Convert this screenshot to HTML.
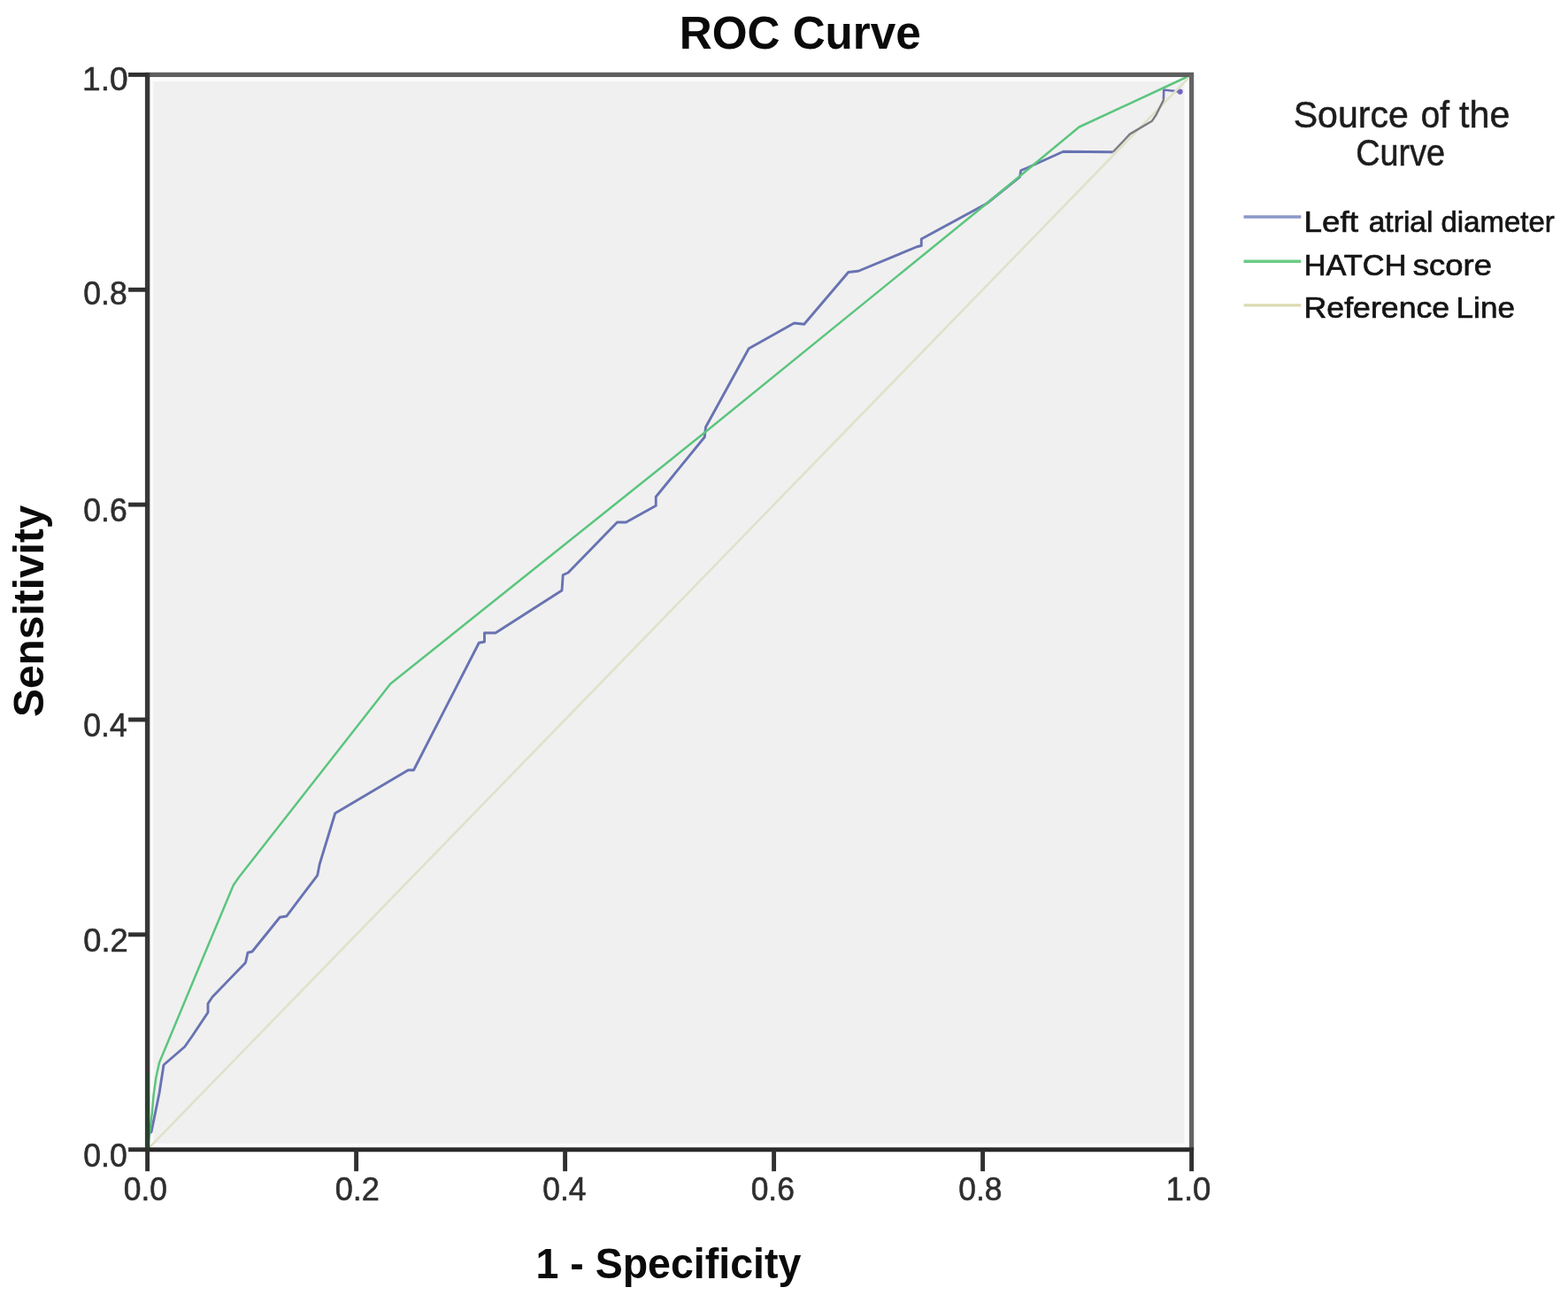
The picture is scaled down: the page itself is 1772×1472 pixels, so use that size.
<!DOCTYPE html>
<html lang="en">
<head>
<meta charset="utf-8">
<title>ROC Curve</title>
<style>
html,body{margin:0;padding:0;background:#fff;}
body{width:1772px;height:1472px;overflow:hidden;font-family:"Liberation Sans",Arial,sans-serif;}
svg{display:block;}
svg text{font-family:"Liberation Sans",Arial,sans-serif;}
</style>
</head>
<body>
<svg width="1772" height="1472" viewBox="0 0 1772 1472">
<rect x="0" y="0" width="1772" height="1472" fill="#ffffff"/>
<rect x="166.6" y="84.4" width="1180.0" height="1214.3" fill="#fbfbfb"/>
<rect x="173.5" y="92" width="1165.0" height="1199.7" fill="#f0f0f0"/>
<!-- Left atrial diameter -->
<polyline points="166.5,1298.5 166.5,1281 171,1279 180,1235 185,1203 208.75,1182.5 217.5,1170 235,1143.75 235,1133.75 240,1126.25 277.5,1087.5 280,1076.25 285,1075 316.25,1036.25 323.75,1035 358.75,988.75 361.25,976 378.75,918.75 461.25,870 467.5,870 541.25,726.25 547.5,725 547.5,715 560,715 635,667 636.25,649.5 642,647 697.5,590 707.5,590 741.25,571.25 741.25,561.25 796.25,493.75 797.5,482.5 846.25,393.75 897.5,365 908.75,366.25 958.75,307.5 970,306.25 1036.25,278.75 1041.25,277.5 1041.25,270 1115,230 1152.5,199.8 1153.75,192.5 1160,190 1201.5,171.2 1257.7,171.8" fill="none" stroke="#6873b2" stroke-width="2.9" stroke-linejoin="round"/>
<polyline points="1315,111 1315.2,101.5 1333.5,103.5" fill="none" stroke="#6873b2" stroke-width="2.6" stroke-linejoin="round"/>
<circle cx="1333.6" cy="103.6" r="3.1" fill="#7467bd"/>
<!-- HATCH score -->
<polyline points="166.6,1298.7 169,1280 171.7,1258.7 173.6,1237 176.3,1217.4 180,1200.5 225,1092.5 263.75,1000 270,991 441.25,772.5 796.25,488.75 1115,230 1219.5,143.5 1346.5,84.5" fill="none" stroke="#5bc57e" stroke-width="2.5" stroke-linejoin="round"/>
<!-- reference line -->
<line x1="166.6" y1="1298.7" x2="1346.6" y2="84.4" stroke="#e0e1ca" stroke-width="2.6"/>
<polyline points="1257.7,171.8 1277,151.4 1301.9,136.7 1306.4,130 1314.9,113 1315,109.5" fill="none" stroke="#7c7c82" stroke-width="2.4" stroke-linejoin="round"/>
<!-- frame -->
<g fill="none" stroke-linecap="butt">
<line x1="164.1" y1="84.4" x2="1349.1" y2="84.4" stroke="#5e5e5e" stroke-width="5.2"/>
<line x1="1346.6" y1="84.4" x2="1346.6" y2="1298.7" stroke="#646464" stroke-width="5.2"/>
<line x1="166.6" y1="81.9" x2="166.6" y2="1301.0" stroke="#383838" stroke-width="5.4"/>
<line x1="164.1" y1="1298.7" x2="1349.1" y2="1298.7" stroke="#2a2a2a" stroke-width="4.9"/>
</g>
<line x1="166.9" y1="1213" x2="166.9" y2="1296.7" stroke="#27432d" stroke-width="3.2" stroke-linecap="round"/>
<g stroke="#303030" stroke-width="4.9">
<line x1="145.1" y1="1298.7" x2="166.6" y2="1298.7"/>
<line x1="166.6" y1="1298.7" x2="166.6" y2="1323.2"/>
<line x1="145.1" y1="1055.8" x2="166.6" y2="1055.8"/>
<line x1="402.6" y1="1298.7" x2="402.6" y2="1323.2"/>
<line x1="145.1" y1="813.0" x2="166.6" y2="813.0"/>
<line x1="638.6" y1="1298.7" x2="638.6" y2="1323.2"/>
<line x1="145.1" y1="570.1" x2="166.6" y2="570.1"/>
<line x1="874.6" y1="1298.7" x2="874.6" y2="1323.2"/>
<line x1="145.1" y1="327.3" x2="166.6" y2="327.3"/>
<line x1="1110.6" y1="1298.7" x2="1110.6" y2="1323.2"/>
<line x1="145.1" y1="84.4" x2="166.6" y2="84.4"/>
<line x1="1346.6" y1="1298.7" x2="1346.6" y2="1323.2"/>
</g>
<g>
<text transform="translate(94.25,1317.70) scale(0.9480,1)" font-size="37.5" fill="#2e2e2e" stroke="#2e2e2e" stroke-width="0.6">0.0</text>
<text transform="translate(139.76,1356.20) scale(0.9440,1)" font-size="37.5" fill="#2e2e2e" stroke="#2e2e2e" stroke-width="0.6">0.0</text>
<text transform="translate(94.23,1074.84) scale(0.9673,1)" font-size="37.5" fill="#2e2e2e" stroke="#2e2e2e" stroke-width="0.6">0.2</text>
<text transform="translate(378.64,1356.20) scale(0.9633,1)" font-size="37.5" fill="#2e2e2e" stroke="#2e2e2e" stroke-width="0.6">0.2</text>
<text transform="translate(94.25,831.98) scale(0.9480,1)" font-size="37.5" fill="#2e2e2e" stroke="#2e2e2e" stroke-width="0.6">0.4</text>
<text transform="translate(613.36,1356.20) scale(0.9440,1)" font-size="37.5" fill="#2e2e2e" stroke="#2e2e2e" stroke-width="0.6">0.4</text>
<text transform="translate(94.25,589.12) scale(0.9480,1)" font-size="37.5" fill="#2e2e2e" stroke="#2e2e2e" stroke-width="0.6">0.6</text>
<text transform="translate(848.66,1356.20) scale(0.9440,1)" font-size="37.5" fill="#2e2e2e" stroke="#2e2e2e" stroke-width="0.6">0.6</text>
<text transform="translate(94.25,344.46) scale(0.9480,1)" font-size="37.5" fill="#2e2e2e" stroke="#2e2e2e" stroke-width="0.6">0.8</text>
<text transform="translate(1083.36,1356.20) scale(0.9440,1)" font-size="37.5" fill="#2e2e2e" stroke="#2e2e2e" stroke-width="0.6">0.8</text>
<text transform="translate(93.03,102.00) scale(0.9896,1)" font-size="37.5" fill="#2e2e2e" stroke="#2e2e2e" stroke-width="0.6">1.0</text>
<text transform="translate(1317.57,1356.20) scale(0.9771,1)" font-size="37.5" fill="#2e2e2e" stroke="#2e2e2e" stroke-width="0.6">1.0</text>
</g>
<text transform="translate(767.75,55.30) scale(0.9842,1)" font-size="52" font-weight="bold" fill="#0a0a0a">ROC Curve</text>
<text transform="translate(605.49,1444.20) scale(0.9693,1)" font-size="48" font-weight="bold" fill="#0a0a0a">1 - Specificity</text>
<text transform="translate(48.9,810.00) rotate(-90) scale(0.9975,1)" font-size="48" font-weight="bold" fill="#0a0a0a">Sensitivity</text>

<g>
<text y="144.00" font-size="42" fill="#1c1c1c" stroke="#1c1c1c" stroke-width="0.5"><tspan x="1461.74" textLength="130.09" lengthAdjust="spacingAndGlyphs">Source</tspan> <tspan x="1605.76" textLength="32.27" lengthAdjust="spacingAndGlyphs">of</tspan> <tspan x="1649.02" textLength="57.35" lengthAdjust="spacingAndGlyphs">the</tspan></text>
<text transform="translate(1532.20,186.50) scale(0.9009,1)" font-size="42" fill="#1c1c1c" stroke="#1c1c1c" stroke-width="0.5">Curve</text>
<line x1="1405.5" y1="245" x2="1470.3" y2="245" stroke="#8b99c9" stroke-width="3.6"/>
<line x1="1405.5" y1="295.3" x2="1470.3" y2="295.3" stroke="#6ccb84" stroke-width="3.6"/>
<line x1="1405.5" y1="344.8" x2="1470.3" y2="344.8" stroke="#dcdbb0" stroke-width="3.2"/>
<text y="262.40" font-size="34" fill="#141414" stroke="#141414" stroke-width="0.7"><tspan x="1473.45" textLength="61.45" lengthAdjust="spacingAndGlyphs">Left</tspan> <tspan x="1546.71" textLength="72.77" lengthAdjust="spacingAndGlyphs">atrial</tspan> <tspan x="1628.53" textLength="128.34" lengthAdjust="spacingAndGlyphs">diameter</tspan></text>
<text y="310.80" font-size="34" fill="#141414" stroke="#141414" stroke-width="0.7"><tspan x="1473.67" textLength="115.86" lengthAdjust="spacingAndGlyphs">HATCH</tspan> <tspan x="1596.73" textLength="89.20" lengthAdjust="spacingAndGlyphs">score</tspan></text>
<text y="359.40" font-size="34" fill="#141414" stroke="#141414" stroke-width="0.7"><tspan x="1473.55" textLength="164.62" lengthAdjust="spacingAndGlyphs">Reference</tspan> <tspan x="1645.61" textLength="66.32" lengthAdjust="spacingAndGlyphs">Line</tspan></text>
</g>
</svg>
</body>
</html>
